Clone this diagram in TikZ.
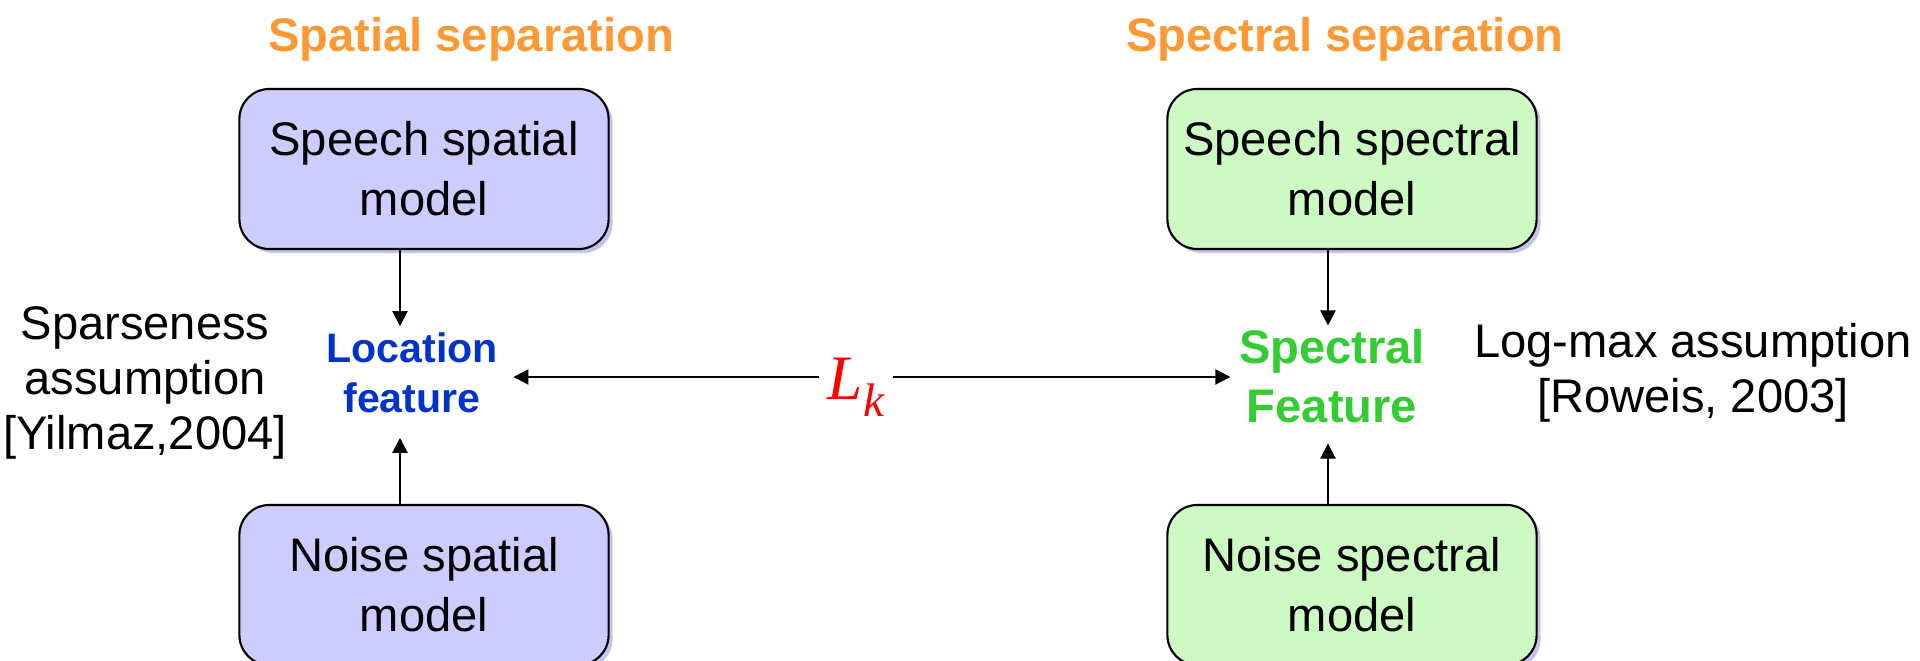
\documentclass[tikz,border=0pt]{standalone}
\usepackage{fontspec}
\setmainfont{Liberation Sans}
\newfontfamily\lkfont{Liberation Serif}
\usepackage{tikz}
\usetikzlibrary{arrows.meta}
\usetikzlibrary{calc}
\usetikzlibrary{shadows}

\definecolor{spatialfill}{RGB}{204,204,255}
\definecolor{spectralfill}{RGB}{204,250,194}
\definecolor{shadowblue}{RGB}{195,195,235}
\definecolor{titleorange}{RGB}{255,153,51}
\definecolor{locblue}{RGB}{0,51,204}
\definecolor{specgreen}{RGB}{51,204,51}

\begin{document}
\begin{tikzpicture}[x=0.01cm, y=-0.01cm,
    model/.style={rectangle, rounded corners=0.3cm, draw=black, line width=0.6pt,
        minimum width=3.69cm, minimum height=1.6cm, align=center,
        font=\fontsize{13.4}{17.1}\selectfont,
        drop shadow={shadow xshift=0.04cm, shadow yshift=-0.04cm, fill=shadowblue, opacity=1}},
    title/.style={anchor=base, text=titleorange, font=\bfseries\fontsize{13.4}{16}\selectfont},
    note/.style={align=center, inner sep=0pt},
    arr/.style={line width=0.6pt, -{Triangle[length=0.15cm, width=0.15cm]}}]

    \useasboundingbox (0,0) rectangle (1920,661);

    % titles
    \node[title] (spatialtitle) at (471,52) {Spatial separation};
    \node[title] (spectraltitle) at (1345,52) {Spectral separation};

    % model boxes
    \node[model, fill=spatialfill] (sps) at (424,169) {Speech spatial\\model};
    \node[model, fill=spatialfill] (nps) at (424,585) {Noise spatial\\model};
    \node[model, fill=spectralfill] (ssp) at (1352,169) {Speech spectral\\model};
    \node[model, fill=spectralfill] (nsp) at (1352,585) {Noise spectral\\model};

    % features
    \node[note, text=locblue, font=\bfseries\fontsize{11.7}{14.2}\selectfont] (loc) at (412,373) {Location\\feature};
    \node[note, text=specgreen, font=\bfseries\fontsize{13.4}{16.8}\selectfont] (spc) at (1332,376) {Spectral\\Feature};

    % assumptions
    \node[note, font=\fontsize{13.4}{15.6}\selectfont] (sparse) at (145,383) {Sparseness\\assumption\\{[Yilmaz,2004]}};
    \node[note, font=\fontsize{13.4}{15.5}\selectfont] (logmax) at (1693,373) {Log-max assumption\\{[Roweis, 2003]}};

    % likelihood
    \node[anchor=base, inner xsep=0.08cm, text=red] (Lk) at (856,400)
        {\lkfont\itshape\fontsize{18}{20}\selectfont L\raisebox{-4.8pt}{\fontsize{13.4}{15}\selectfont k}};
    \coordinate (lkw) at ($(Lk.base west)+(0,-23)$);
    \coordinate (lke) at ($(Lk.base east)+(0,-23)$);

    \draw[arr] (lkw) -- ($(lkw -| loc.east)+(15,0)$);
    \draw[arr] (lke) -- ($(lke -| spc.west)+(-8,0)$);

    \draw[arr] ($(sps.south)+(-24,0)$) -- ($(sps.south |- loc.north)+(-24,-6)$);
    \draw[arr] ($(nps.north)+(-24,0)$) -- ($(nps.north |- loc.south)+(-24,24)$);
    \draw[arr] ($(ssp.south)+(-24,0)$) -- ($(ssp.south |- spc.north)+(-24,-3)$);
    \draw[arr] ($(nsp.north)+(-24,0)$) -- ($(nsp.north |- spc.south)+(-24,20)$);

\end{tikzpicture}
\end{document}
